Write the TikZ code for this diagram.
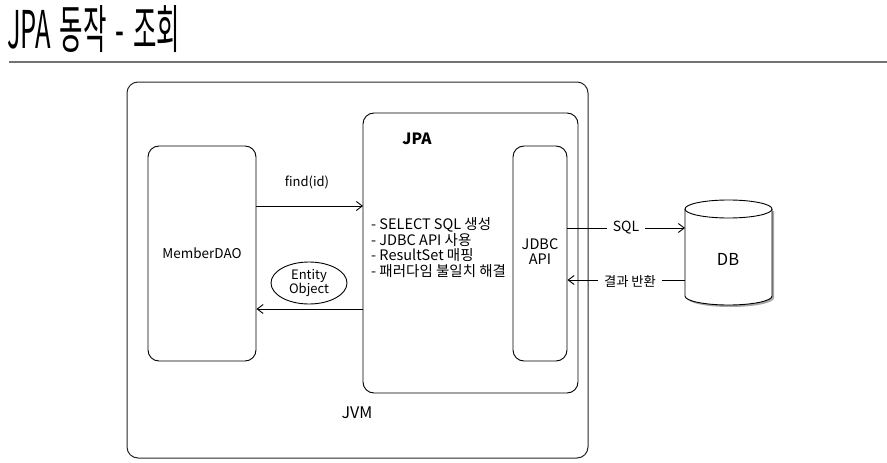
\documentclass[tikz,border=0pt]{standalone}
\usepackage{fontspec}
\setmainfont{Noto Sans CJK KR}
\usetikzlibrary{arrows.meta,shapes.geometric,calc}
\begin{document}
\begin{tikzpicture}[x=1pt,y=-1pt,
  box/.style={draw=black,line width=0.9pt,rounded corners=11pt},
  txt/.style={font=\fontsize{13}{15}\selectfont,inner sep=0pt},
  arr/.style={line width=0.9pt,-{Straight Barb[length=6pt,width=9pt]}},
  ln/.style={line width=0.9pt}]
\useasboundingbox (0,0) rectangle (887,463);
% title
\node[anchor=base west,inner sep=0pt,font=\fontsize{52}{56}\selectfont] (title) at (7,48) {\scalebox{0.49}[1]{JPA\hspace{0.35em}동작\hspace{0.35em}-\hspace{0.35em}조회}};
\draw[line width=1.6pt,draw=black!55] (9,62) coordinate (r1) -- (887,62) coordinate (r2);
% boxes
\draw[box,draw=black!85,line width=1pt] (127,82) rectangle (588,458);
\node[txt,font=\fontsize{16}{18}\selectfont] (jvm) at (357,413) {JVM};
\draw[box] (363,113) rectangle (578,393);
\node[txt,font=\fontsize{15.5}{17}\selectfont\bfseries] (jpa) at (417,139) {JPA};
\node[box,minimum width=108pt,minimum height=215pt,inner sep=0pt] (dao) at (202,253.5) {};
\node[txt,font=\fontsize{13.5}{15}\selectfont] (daolbl) at (202,253) {MemberDAO};
\node[box,minimum width=54pt,minimum height=215pt,inner sep=0pt] (jdbc) at (540,253.5) {};
\node[txt,align=center,font=\fontsize{14.5}{15}\selectfont] (jdbclbl) at (540,252) {JDBC\\API};
\coordinate (jpaL1) at (363,206);
\coordinate (jpaL2) at (363,309);
% list
\node[txt,anchor=west,align=left,font=\fontsize{14.5}{15.6}\selectfont] (list) at (371,247.5) {- SELECT SQL 생성\\- JDBC API 사용\\- ResultSet 매핑\\- 패러다임 불일치 해결};
% arrows dao <-> jpa
\node[txt] (find) at (307,182) {find(id)};
\draw[arr] (dao.east |- jpaL1) -- (jpaL1);
\draw[arr] (jpaL2) -- (dao.east |- jpaL2);
\node[draw,ellipse,line width=0.9pt,minimum width=76pt,minimum height=42pt,inner sep=0pt,align=center,font=\fontsize{13}{14}\selectfont] (ent) at (309,283) {Entity\\Object};
% DB cylinder with light shadow
\fill[black!35] (687,211) -- (687,298) arc[start angle=180,end angle=0,x radius=43.5,y radius=9] -- (774,211) -- cycle;
\draw[ln,fill=white] (685,209) -- (685,296) arc[start angle=180,end angle=0,x radius=43.5,y radius=9] -- (772,209) arc[start angle=0,end angle=-180,x radius=43.5,y radius=9] -- cycle;
\draw[ln] (685,209) arc[start angle=180,end angle=0,x radius=43.5,y radius=9];
\node[txt,font=\fontsize{16.5}{18}\selectfont] (db) at (728,259) {DB};
\coordinate (dbS) at (685,228);
\coordinate (dbR) at (685,280);
% SQL arrows
\node[txt,fill=white,inner xsep=6pt,font=\fontsize{14}{16}\selectfont] (sql) at (626,228) {SQL};
\node[txt,fill=white,inner xsep=6pt,font=\fontsize{13.3}{15}\selectfont] (res) at (630,281) {결과 반환};
\draw[ln] (jdbc.east |- dbS) -- (sql.west);
\draw[arr] (sql.east) -- (dbS);
\draw[ln] (dbR) -- (res.east |- dbR);
\draw[arr] (res.west |- dbR) -- (jdbc.east |- dbR);
\end{tikzpicture}
\end{document}
